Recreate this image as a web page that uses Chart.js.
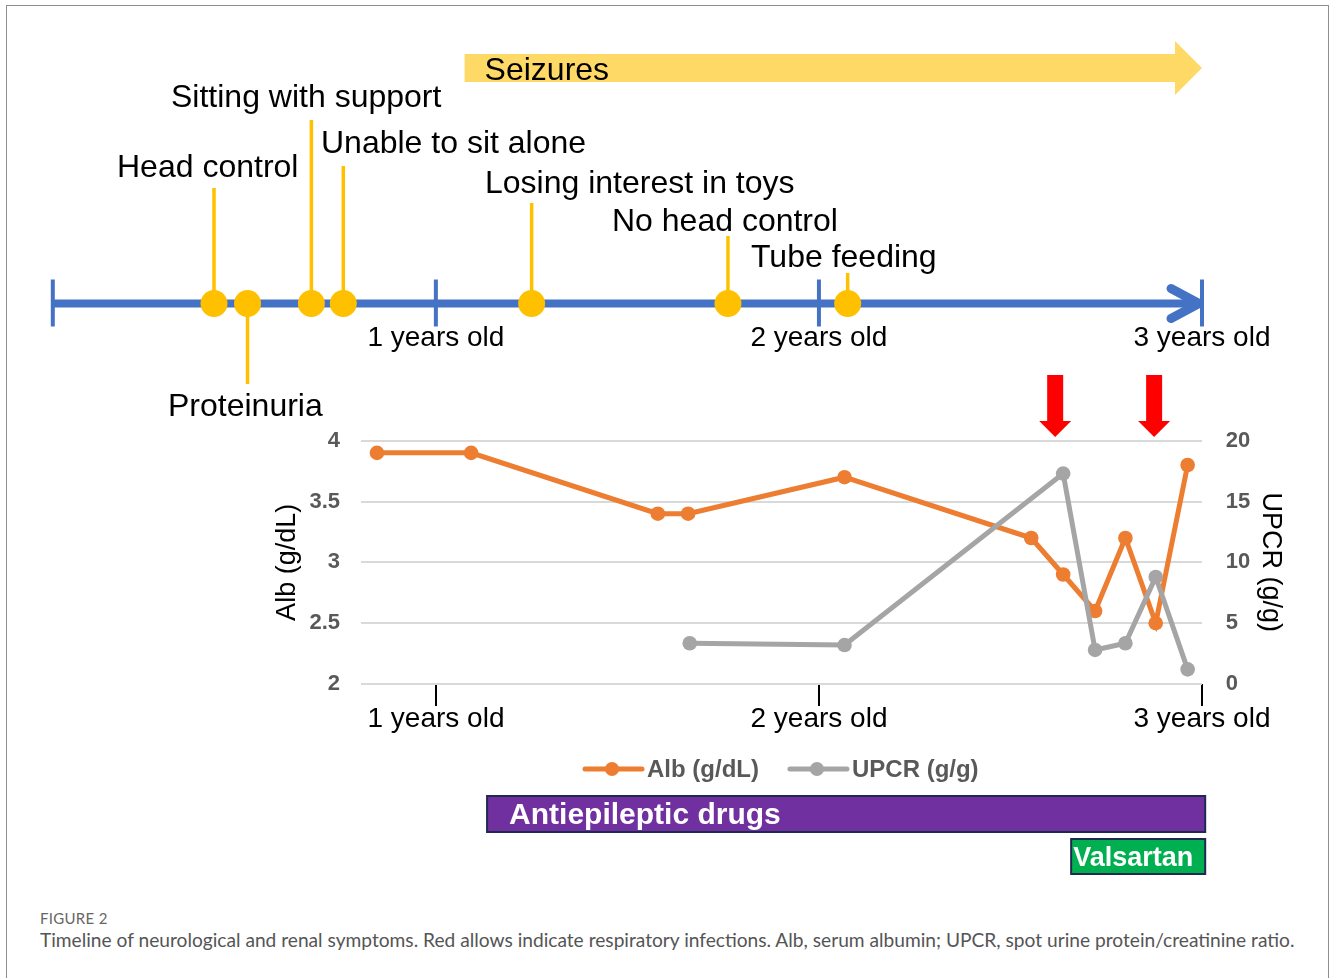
<!DOCTYPE html>
<html>
<head>
<meta charset="utf-8">
<script src="https://cdn.jsdelivr.net/npm/chart.js@4.4.1/dist/chart.umd.min.js"></script>
<style>
  html, body { margin: 0; padding: 0; background: #fff; }
  #page { position: relative; width: 1332px; height: 978px; overflow: hidden; background: #fff; }
  #frame { position: absolute; left: 6px; top: 5px; width: 1321px; height: 1000px; border: 1px solid #8e8e8e; }
  canvas { position: absolute; left: 0; top: 0; }
  .fig-no { position: absolute; left: 40px; top: 911px; font: 15px/15px Lato, "Open Sans", sans-serif; color: #666; letter-spacing: 0.3px; white-space: nowrap; }
  .fig-cap { position: absolute; left: 40px; top: 931px; font: 18px/18px Lato, "Open Sans", sans-serif; color: #555; white-space: nowrap; }
</style>
</head>
<body>
<div id="page">
  <div id="frame"></div>
  <canvas id="timeline" width="1332" height="440"></canvas>
  <canvas id="labs" width="1332" height="900"></canvas>
  <div class="fig-no">FIGURE 2</div>
  <div class="fig-cap" id="cap">Timeline of neurological and renal symptoms. Red allows indicate respiratory infections. Alb, serum albumin; UPCR, spot urine protein/creatinine ratio.</div>
</div>
<script>
// ---- data (age in months) ----
const yearTicks = [12, 24, 36];
const yearLabels = ["1 years old", "2 years old", "3 years old"];
const timelineBars = [0, 12, 24, 36];

const milestoneNames = [
  "Head control",
  "Proteinuria",
  "Sitting with support",
  "Unable to sit alone",
  "Losing interest in toys",
  "No head control",
  "Tube feeding",
];
const milestoneMonths = [5.05, 6.1, 8.1, 9.1, 15.0, 21.15, 24.9];

const seizureLabel = "Seizures";
const seizureSpan = [12.9, 36];

const albLabel = "Alb (g/dL)";
const albMonths = [10.15, 13.1, 18.95, 19.9, 24.8, 30.65, 31.65, 32.65, 33.6, 34.55, 35.55];
const albValues = [3.9, 3.9, 3.4, 3.4, 3.7, 3.2, 2.9, 2.6, 3.2, 2.5, 3.8];

const upcrLabel = "UPCR (g/g)";
const upcrMonths = [19.95, 24.8, 31.65, 32.65, 33.6, 34.55, 35.55];
const upcrValues = [3.35, 3.2, 17.3, 2.8, 3.35, 8.8, 1.2];

const infectionMonths = [31.4, 34.5];

const drugNames = ["Antiepileptic drugs", "Valsartan"];
const drugStart = [13.6, 31.9];
const drugEnd = [36.1, 36.1];

// ---- styles / layout ----
const FONT = '"Liberation Sans", Arial, sans-serif';
const BLUE = "#4472C4";
const GOLD = "#FFC000";
const ORANGE = "#ED7D31";
const GRAY = "#A5A5A5";
const TICK_TEXT = "#595959";

// [text left, text baseline, stem end y] per milestone
const milestoneLayout = [
  [117, 177, 188],
  [168, 416, 384],
  [171, 107, 120],
  [321, 153, 166],
  [485, 193, 203],
  [612, 231, 236],
  [751, 267, 273],
];
const drugLayout = [
  { top: 796, bottom: 832, fill: "#7030A0", size: 30, pad: 22 },
  { top: 839, bottom: 874, fill: "#00B050", size: 27, pad: 2 },
];

Chart.defaults.font.family = FONT;
Chart.defaults.animation = false;

function line(ctx, x1, y1, x2, y2) {
  ctx.beginPath();
  ctx.moveTo(x1, y1);
  ctx.lineTo(x2, y2);
  ctx.stroke();
}

// ---------- timeline ----------
const timelineDecor = {
  id: "timelineDecor",
  beforeDatasetsDraw(chart) {
    const { ctx, scales: { x, y } } = chart;
    const y0 = y.getPixelForValue(0);
    ctx.save();

    // seizures arrow
    const sx = x.getPixelForValue(seizureSpan[0]);
    const ex = x.getPixelForValue(seizureSpan[1]);
    ctx.fillStyle = "#FFD966";
    ctx.beginPath();
    ctx.moveTo(sx, 54);
    ctx.lineTo(ex - 27, 54);
    ctx.lineTo(ex - 27, 41);
    ctx.lineTo(ex, 68);
    ctx.lineTo(ex - 27, 95);
    ctx.lineTo(ex - 27, 82);
    ctx.lineTo(sx, 82);
    ctx.closePath();
    ctx.fill();
    ctx.fillStyle = "#000";
    ctx.font = `32px ${FONT}`;
    ctx.textBaseline = "alphabetic";
    ctx.fillText(seizureLabel, sx + 20, 80);

    // stems and labels
    ctx.strokeStyle = GOLD;
    ctx.lineWidth = 3.5;
    milestoneMonths.forEach((m, i) => {
      const px = x.getPixelForValue(m);
      const [tx, ty, stemEnd] = milestoneLayout[i];
      line(ctx, px, stemEnd, px, y0);
      ctx.fillText(milestoneNames[i], tx, ty);
    });

    // year bars
    ctx.strokeStyle = BLUE;
    ctx.lineWidth = 4;
    timelineBars.forEach((m) => {
      const px = x.getPixelForValue(m);
      line(ctx, px, y0 - 24, px, y0 + 23);
    });
    ctx.restore();
  },
  afterDatasetsDraw(chart) {
    const { ctx, scales: { x, y } } = chart;
    const y0 = y.getPixelForValue(0);
    const tip = x.getPixelForValue(36) - 3;
    ctx.save();
    ctx.strokeStyle = BLUE;
    ctx.lineWidth = 9;
    ctx.lineCap = "round";
    ctx.lineJoin = "round";
    ctx.beginPath();
    ctx.moveTo(tip - 28, y0 - 15);
    ctx.lineTo(tip, y0);
    ctx.lineTo(tip - 28, y0 + 15);
    ctx.stroke();
    ctx.restore();
  },
};

new Chart(document.getElementById("timeline"), {
  type: "scatter",
  data: {
    datasets: [
      {
        data: milestoneMonths.map((m) => ({ x: m, y: 0 })),
        backgroundColor: GOLD,
        borderWidth: 0,
        pointRadius: 13.5,
        clip: false,
        order: 1,
      },
      {
        data: [{ x: 0, y: 0 }, { x: 36, y: 0 }],
        showLine: true,
        borderColor: BLUE,
        borderWidth: 8,
        pointRadius: 0,
        clip: false,
        order: 2,
      },
    ],
  },
  options: {
    responsive: false,
    events: [],
    layout: { padding: { left: 52.8, right: 130, top: 0, bottom: 76.5 } },
    plugins: { legend: { display: false }, tooltip: { enabled: false } },
    scales: {
      x: {
        type: "linear",
        min: 0,
        max: 36,
        afterBuildTicks: (s) => { s.ticks = yearTicks.map((v) => ({ value: v })); },
        afterFit: (s) => { s.height = 60; },
        grid: { display: false, drawTicks: false },
        border: { display: false },
        ticks: {
          padding: 18,
          color: "#000",
          font: { size: 28 },
          maxRotation: 0,
          autoSkip: false,
          callback: (v, i) => yearLabels[i],
        },
      },
      y: { display: false, min: 0, max: 1 },
    },
  },
  plugins: [timelineDecor],
});

// ---------- labs chart ----------
const labsDecor = {
  id: "labsDecor",
  afterDraw(chart) {
    const { ctx, scales: { x } } = chart;
    ctx.save();

    // respiratory infections
    ctx.fillStyle = "#FF0000";
    infectionMonths.forEach((m) => {
      const px = x.getPixelForValue(m);
      ctx.beginPath();
      ctx.moveTo(px - 8, 375);
      ctx.lineTo(px + 8, 375);
      ctx.lineTo(px + 8, 421);
      ctx.lineTo(px + 16, 421);
      ctx.lineTo(px, 437);
      ctx.lineTo(px - 16, 421);
      ctx.lineTo(px - 8, 421);
      ctx.closePath();
      ctx.fill();
    });

    // legend
    let lx = 585;
    const ly = 769;
    ctx.font = `bold 24px ${FONT}`;
    ctx.textBaseline = "middle";
    chart.data.datasets.forEach((ds) => {
      ctx.strokeStyle = ds.borderColor;
      ctx.lineWidth = 5;
      ctx.lineCap = "round";
      line(ctx, lx, ly, lx + 57, ly);
      ctx.fillStyle = ds.borderColor;
      ctx.beginPath();
      ctx.arc(lx + 27, ly, 7, 0, Math.PI * 2);
      ctx.fill();
      ctx.fillStyle = TICK_TEXT;
      ctx.fillText(ds.label, lx + 62, ly + 1);
      lx += 62 + ctx.measureText(ds.label).width + 31;
    });

    // drug bars
    drugNames.forEach((name, i) => {
      const L = drugLayout[i];
      const x1 = x.getPixelForValue(drugStart[i]);
      const x2 = x.getPixelForValue(drugEnd[i]);
      ctx.fillStyle = L.fill;
      ctx.fillRect(x1, L.top, x2 - x1, L.bottom - L.top);
      ctx.strokeStyle = "#1F2A52";
      ctx.lineWidth = 2;
      ctx.lineCap = "butt";
      ctx.strokeRect(x1, L.top, x2 - x1, L.bottom - L.top);
      ctx.fillStyle = "#fff";
      ctx.font = `bold ${L.size}px ${FONT}`;
      ctx.fillText(name, x1 + L.pad, (L.top + L.bottom) / 2 + 2);
    });
    ctx.restore();
  },
};

new Chart(document.getElementById("labs"), {
  type: "line",
  data: {
    datasets: [
      {
        label: albLabel,
        data: albMonths.map((m, i) => ({ x: m, y: albValues[i] })),
        yAxisID: "y",
        borderColor: ORANGE,
        backgroundColor: ORANGE,
        borderWidth: 5,
        pointRadius: 7.3,
        pointBorderWidth: 0,
        order: 2,
      },
      {
        label: upcrLabel,
        data: upcrMonths.map((m, i) => ({ x: m, y: upcrValues[i] })),
        yAxisID: "y1",
        borderColor: GRAY,
        backgroundColor: GRAY,
        borderWidth: 5,
        pointRadius: 7.3,
        pointBorderWidth: 0,
        order: 1,
      },
    ],
  },
  options: {
    responsive: false,
    events: [],
    layout: { padding: { left: 271.8, right: 45.8, top: 440.7, bottom: 156 } },
    plugins: { legend: { display: false }, tooltip: { enabled: false } },
    scales: {
      x: {
        type: "linear",
        min: 9.65,
        max: 36,
        afterBuildTicks: (s) => { s.ticks = yearTicks.map((v) => ({ value: v })); },
        afterFit: (s) => { s.height = 60; },
        grid: { drawOnChartArea: false, color: "#000", lineWidth: 2, tickLength: 22 },
        border: { display: false },
        ticks: {
          padding: -3.5,
          color: "#000",
          font: { size: 28 },
          maxRotation: 0,
          autoSkip: false,
          callback: (v, i) => yearLabels[i],
        },
      },
      y: {
        position: "left",
        min: 2,
        max: 4,
        afterFit: (s) => { s.width = 89.2; },
        grid: { color: "#D9D9D9", lineWidth: 2, drawTicks: false },
        border: { display: false },
        ticks: {
          stepSize: 0.5,
          padding: 21,
          color: TICK_TEXT,
          font: { size: 22, weight: "bold" },
          callback: (v) => String(v),
        },
        title: { display: true, text: albLabel, color: "#000", font: { size: 27 }, padding: 0 },
      },
      y1: {
        position: "right",
        min: 0,
        max: 20,
        afterFit: (s) => { s.width = 84.2; },
        grid: { drawOnChartArea: false, drawTicks: false },
        border: { display: false },
        ticks: {
          stepSize: 5,
          padding: 23.7,
          color: TICK_TEXT,
          font: { size: 22, weight: "bold" },
          callback: (v) => String(v),
        },
        title: { display: true, text: upcrLabel, color: "#000", font: { size: 27 }, padding: 0 },
      },
    },
  },
  plugins: [labsDecor],
});

// caption fitted to the figure width
const cap = document.getElementById("cap");
const capW = cap.getBoundingClientRect().width;
if (capW > 0) cap.style.fontSize = (18 * 1255 / capW).toFixed(2) + "px";
</script>
</body>
</html>
